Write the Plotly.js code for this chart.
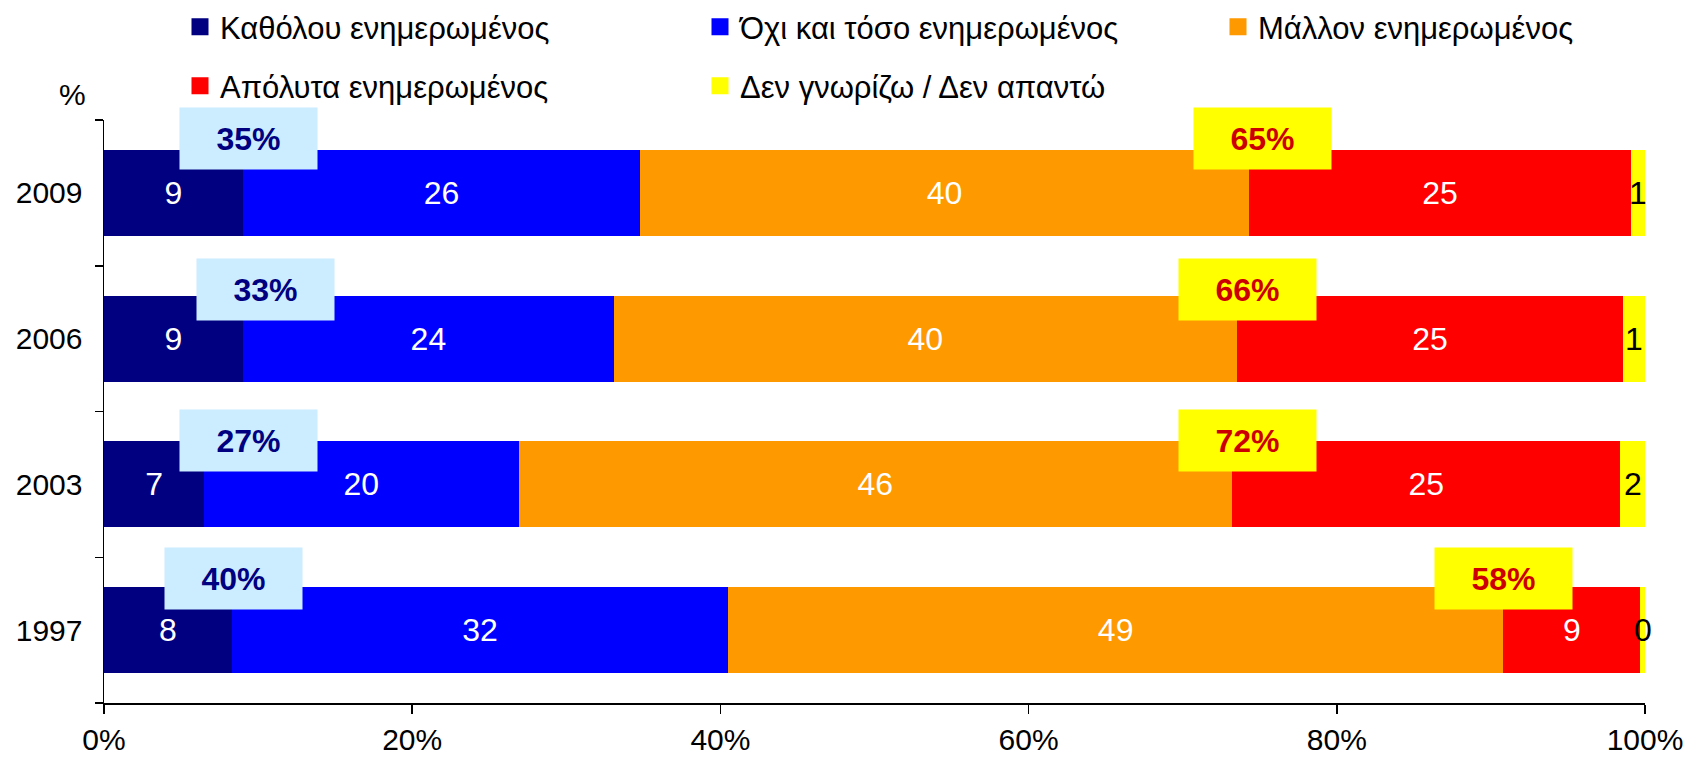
<!DOCTYPE html>
<html><head><meta charset="utf-8">
<script src="https://cdn.plot.ly/plotly-3.0.1.min.js"></script>
<style>html,body{margin:0;padding:0;background:#fff}#chart{width:1688px;height:757px}</style>
</head><body><div id="chart"></div>
<script>
// Categories (bottom to top)
const years = ['1997', '2003', '2006', '2009'];
const seriesNames = ['Καθόλου ενημερωμένος', 'Όχι και τόσο ενημερωμένος', 'Μάλλον ενημερωμένος', 'Απόλυτα ενημερωμένος', 'Δεν γνωρίζω / Δεν απαντώ'];
// Bar shares (% of each 100% bar)
const notAtAll = [8.3, 6.5, 9.0, 9.0];
const notSo = [32.2, 20.4, 24.1, 25.8];
const rather = [50.3, 46.3, 40.4, 39.5];
const fully = [8.9, 25.2, 25.1, 24.8];
const dontKnow = [0.3, 1.6, 1.4, 0.9];
// Printed labels
const notAtAllLbl = [8, 7, 9, 9];
const notSoLbl = [32, 20, 24, 26];
const ratherLbl = [49, 46, 40, 40];
const fullyLbl = [9, 25, 25, 25];
const dontKnowLbl = [0, 2, 1, 1];
const notInformedTotal = [40, 27, 33, 35];
const informedTotal = [58, 72, 66, 65];
const xTicks = [0, 20, 40, 60, 80, 100];

// Styles / layout constants
const colors = ['#000080', '#0000FF', '#FF9900', '#FF0000', '#FFFF00'];
const labelColors = ['#FFFFFF', '#FFFFFF', '#FFFFFF', '#FFFFFF', '#000000'];
const legendX = [180, 700, 1218];   // px of each legend column
const legendY = [27, 86];           // px of each legend row centre
const legendPos = [[0, 0], [1, 0], [2, 0], [0, 1], [1, 1]];
const leftBoxX = [8.43, 9.4, 10.45, 9.4];
const rightBoxX = [90.8, 74.2, 74.2, 75.2];
const boxShift = [52, 44, 49, 54];
const FONT = 'Liberation Sans, Arial, sans-serif';
const M = {l: 104, r: 43, t: 120, b: 54};
const W = 1688, H = 757;
const PW = W - M.l - M.r, PH = H - M.t - M.b;

const values = [notAtAll, notSo, rather, fully, dontKnow];
const labels = [notAtAllLbl, notSoLbl, ratherLbl, fullyLbl, dontKnowLbl];
const last = values.length - 1;

const data = [];
values.forEach((v, i) => {
  const tr = {
    type: 'bar', orientation: 'h', x: v, y: years, name: seriesNames[i],
    marker: {color: colors[i], line: {width: 0}},
    cliponaxis: false, showlegend: false, hoverinfo: 'skip'
  };
  if (i < last) {
    Object.assign(tr, {
      text: labels[i].map(String), texttemplate: '%{text}',
      textposition: 'inside', insidetextanchor: 'middle', constraintext: 'none', textangle: 0,
      textfont: {family: FONT, size: 32, color: labelColors[i]}
    });
  } else {
    tr.textposition = 'none';
  }
  data.push(tr);
});
// legend entries (drawn on a hidden, out-of-range axis pair)
const legendKeys = ['legend', 'legend2', 'legend3', 'legend4', 'legend5'];
values.forEach((v, i) => {
  data.push({
    type: 'bar', orientation: 'h', x: [1], y: [0], name: seriesNames[i],
    xaxis: 'x2', yaxis: 'y2',
    marker: {color: colors[i], line: {color: colors[i], width: 5}},
    legend: legendKeys[i], showlegend: true, hoverinfo: 'skip'
  });
});

const annotations = [];
years.forEach((yr, i) => {
  annotations.push({
    x: leftBoxX[i], y: i, xref: 'x', yref: 'y', yshift: boxShift[i],
    text: '<b>' + notInformedTotal[i] + '%</b>', showarrow: false,
    font: {family: FONT, size: 32, color: '#000080'},
    bgcolor: '#CCECFF', width: 137, height: 61, borderpad: 0, align: 'center', valign: 'middle'
  });
  annotations.push({
    x: rightBoxX[i], y: i, xref: 'x', yref: 'y', yshift: boxShift[i],
    text: '<b>' + informedTotal[i] + '%</b>', showarrow: false,
    font: {family: FONT, size: 32, color: '#CC0000'},
    bgcolor: '#FFFF00', width: 137, height: 61, borderpad: 0, align: 'center', valign: 'middle'
  });
  // label of the thin last segment, centred on it
  const total = values.reduce((s, arr) => s + arr[i], 0);
  const startShare = values.slice(0, last).reduce((s, arr) => s + arr[i], 0) / total * 100;
  const endShare = 100;
  annotations.push({
    x: (startShare + endShare) / 2, y: i, xref: 'x', yref: 'y',
    text: String(labels[last][i]), showarrow: false, xanchor: 'center', yanchor: 'middle',
    font: {family: FONT, size: 32, color: labelColors[last]}
  });
});
annotations.push({
  x: (72 - M.l) / PW, y: (H - M.b - 94) / PH, xref: 'paper', yref: 'paper', text: '%', showarrow: false,
  font: {family: FONT, size: 30, color: '#000'}, xanchor: 'center', yanchor: 'middle'
});

const layout = {
  width: W, height: H,
  margin: Object.assign({autoexpand: false}, M),
  paper_bgcolor: '#fff', plot_bgcolor: '#fff',
  barmode: 'stack', barnorm: 'percent', bargap: 0.41,
  font: {family: FONT, size: 30, color: '#000'},
  xaxis: {
    range: [0, 100], tickvals: xTicks, ticktext: xTicks.map(t => t + '%'),
    showgrid: false, zeroline: false, showline: true, linecolor: '#000', linewidth: 1.5,
    ticks: 'outside', ticklen: 9, tickwidth: 1.5, tickcolor: '#000',
    tickfont: {family: FONT, size: 30, color: '#000'}, fixedrange: true
  },
  yaxis: {
    type: 'category', categoryorder: 'array', categoryarray: years, range: [-0.5, 3.5],
    tickson: 'boundaries', ticks: 'outside', ticklen: 8, tickwidth: 1.5, tickcolor: '#000',
    ticklabelstandoff: 14,
    showgrid: false, zeroline: false, showline: true, linecolor: '#000', linewidth: 1.5,
    tickfont: {family: FONT, size: 30, color: '#000'}, fixedrange: true
  },
  xaxis2: {overlaying: 'x', visible: false, range: [500, 600], fixedrange: true},
  yaxis2: {overlaying: 'y', visible: false, range: [10, 20], fixedrange: true},
  annotations: annotations,
  showlegend: true
};
legendKeys.forEach((k, i) => {
  const [c, r] = legendPos[i];
  layout[k] = {
    orientation: 'h', xanchor: 'left', yanchor: 'middle',
    x: (legendX[c] - M.l) / PW, y: (H - M.b - legendY[r]) / PH,
    font: {family: FONT, size: 31, color: '#000'}, bgcolor: 'rgba(0,0,0,0)',
    itemclick: false, itemdoubleclick: false
  };
});

Plotly.newPlot('chart', data, layout, {displayModeBar: false, staticPlot: true});
</script>
</body></html>
